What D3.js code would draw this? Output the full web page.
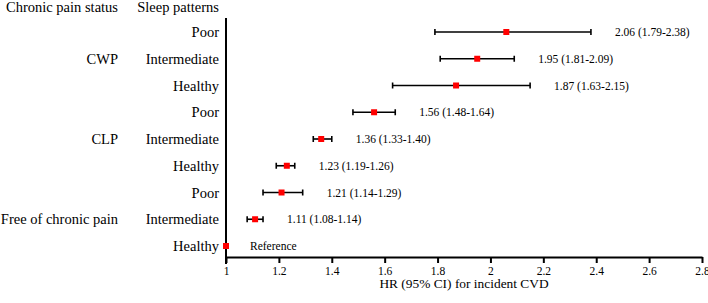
<!DOCTYPE html>
<html>
<head>
<meta charset="utf-8">
<script src="https://cdn.jsdelivr.net/npm/d3@7"></script>
<style>
  body { margin: 0; background: #fff; }
  svg { display: block; }
  svg text { font-family: "Liberation Serif", "DejaVu Serif", serif; }
</style>
</head>
<body>
<div id="chart"></div>
<script>
// forest plot data
const groups = ["CWP", "CLP", "Free of chronic pain"];
const sleep = ["Poor", "Intermediate", "Healthy"];
const hr = [2.06, 1.95, 1.87, 1.56, 1.36, 1.23, 1.21, 1.11, 1];
const lo = [1.79, 1.81, 1.63, 1.48, 1.33, 1.19, 1.14, 1.08, null];
const hi = [2.38, 2.09, 2.15, 1.64, 1.40, 1.26, 1.29, 1.14, null];
const valueLabels = ["2.06 (1.79-2.38)", "1.95 (1.81-2.09)", "1.87 (1.63-2.15)",
  "1.56 (1.48-1.64)", "1.36 (1.33-1.40)", "1.23 (1.19-1.26)",
  "1.21 (1.14-1.29)", "1.11 (1.08-1.14)", "Reference"];
const xTicks = [1, 1.2, 1.4, 1.6, 1.8, 2, 2.2, 2.4, 2.6, 2.8];

const W = 708, H = 303;
const svg = d3.select("#chart").append("svg")
  .attr("width", W)
  .attr("height", H);

const x = d3.scaleLinear().domain([1, 2.8]).range([226, 702]);
const y = d3.scalePoint().domain(d3.range(hr.length)).range([32, 246]);

const rows = hr.map((d, i) => ({
  i: i,
  hr: d, lo: lo[i], hi: hi[i],
  sleep: sleep[i % 3],
  label: valueLabels[i]
}));

// headers
svg.append("text").attr("x", 118).attr("y", 12).attr("text-anchor", "end")
  .attr("font-size", 14.5).text("Chronic pain status");
svg.append("text").attr("x", 219).attr("y", 12).attr("text-anchor", "end")
  .attr("font-size", 14.5).text("Sleep patterns");

// group labels, centred on the middle row of each group
svg.selectAll(".grp").data(groups).enter().append("text")
  .attr("class", "grp")
  .attr("x", 118)
  .attr("y", (d, g) => y(g * 3 + 1))
  .attr("dy", "0.35em")
  .attr("text-anchor", "end")
  .attr("font-size", 14.5)
  .text(d => d);

// sleep pattern labels
svg.selectAll(".sl").data(rows).enter().append("text")
  .attr("class", "sl")
  .attr("x", 219)
  .attr("y", d => y(d.i))
  .attr("dy", "0.35em")
  .attr("text-anchor", "end")
  .attr("font-size", 14.5)
  .text(d => d.sleep);

// x axis
const axisY = 257;
const xAxis = d3.axisBottom(x).tickValues(xTicks)
  .tickFormat(d => String(+d.toFixed(1)))
  .tickSize(6).tickSizeOuter(0).tickPadding(4);
const ax = svg.append("g").attr("transform", `translate(0,${axisY})`).call(xAxis)
  .attr("font-family", null);
ax.select(".domain").attr("stroke", "#000").attr("stroke-width", 2);
ax.selectAll(".tick line").attr("stroke", "#000").attr("stroke-width", 2);
ax.selectAll(".tick text").attr("font-size", 11.5).attr("fill", "#000");

// vertical reference line at HR = 1
svg.append("line")
  .attr("x1", x(1)).attr("x2", x(1))
  .attr("y1", 18).attr("y2", axisY + 7)
  .attr("stroke", "#000").attr("stroke-width", 2);

svg.append("text")
  .attr("x", (x.range()[0] + x.range()[1]) / 2)
  .attr("y", 288)
  .attr("text-anchor", "middle")
  .attr("font-size", 13.4)
  .text("HR (95% CI) for incident CVD");

// CI whiskers
const ci = rows.filter(d => d.lo != null);
svg.selectAll(".ci").data(ci).enter().append("line")
  .attr("x1", d => x(d.lo)).attr("x2", d => x(d.hi))
  .attr("y1", d => y(d.i)).attr("y2", d => y(d.i))
  .attr("stroke", "#000").attr("stroke-width", 1.6);
svg.selectAll(".capL").data(ci).enter().append("line")
  .attr("x1", d => x(d.lo)).attr("x2", d => x(d.lo))
  .attr("y1", d => y(d.i) - 3).attr("y2", d => y(d.i) + 3)
  .attr("stroke", "#000").attr("stroke-width", 1.6);
svg.selectAll(".capR").data(ci).enter().append("line")
  .attr("x1", d => x(d.hi)).attr("x2", d => x(d.hi))
  .attr("y1", d => y(d.i) - 3).attr("y2", d => y(d.i) + 3)
  .attr("stroke", "#000").attr("stroke-width", 1.6);

// point estimates
svg.selectAll(".pt").data(rows).enter().append("rect")
  .attr("x", d => x(d.hr) - 3)
  .attr("y", d => y(d.i) - 3)
  .attr("width", 6).attr("height", 6)
  .attr("fill", "#ff0000");

// value labels
svg.selectAll(".val").data(rows).enter().append("text")
  .attr("x", d => x(d.hi != null ? d.hi : d.hr) + 24)
  .attr("y", d => y(d.i))
  .attr("dy", "0.35em")
  .attr("font-size", 11.5)
  .text(d => d.label);
</script>
</body>
</html>
